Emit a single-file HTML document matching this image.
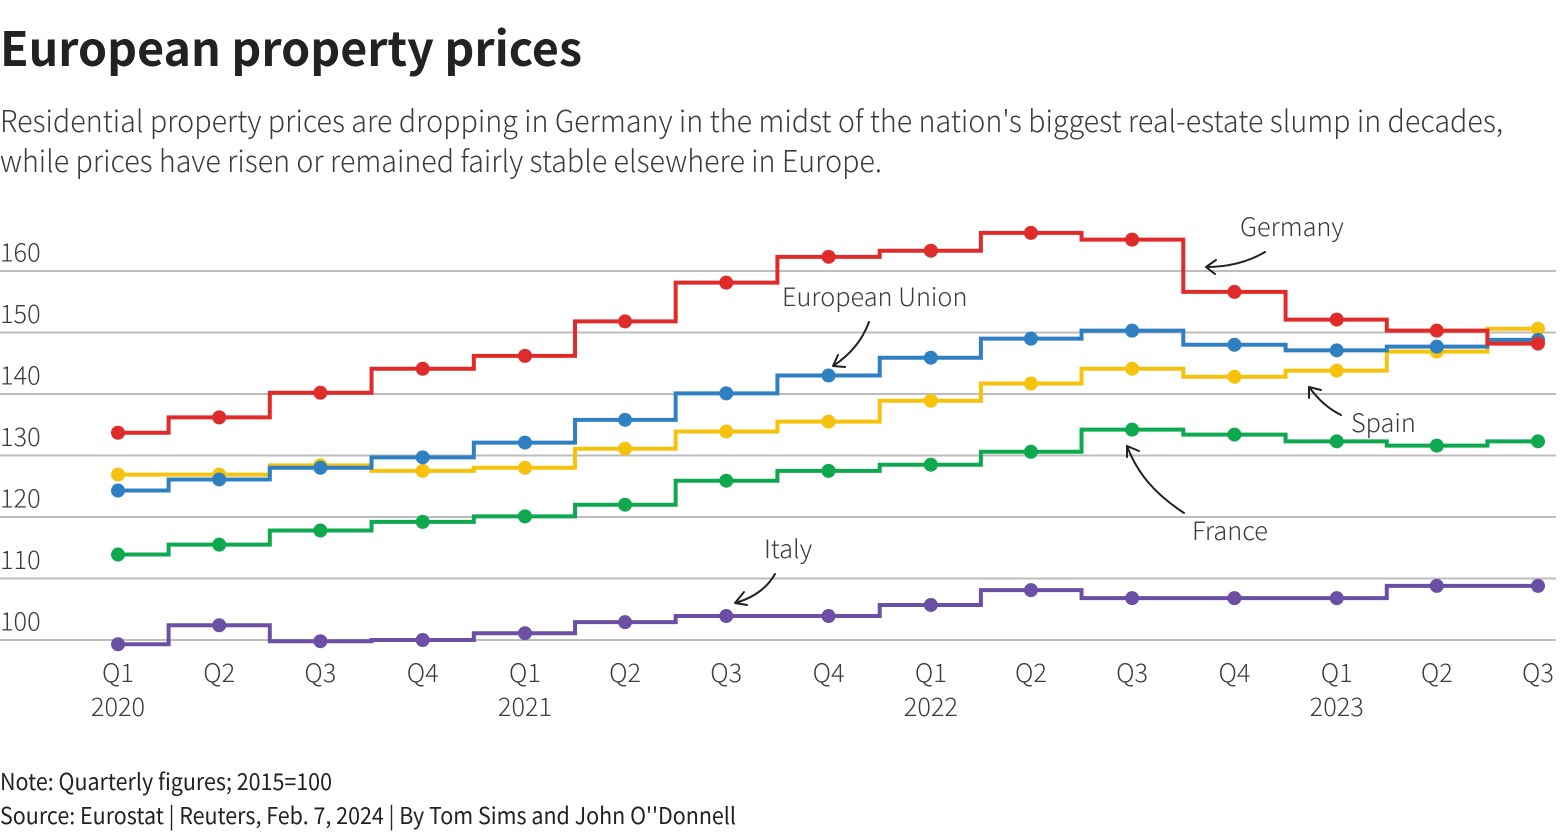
<!DOCTYPE html>
<html lang="en">
<head>
<meta charset="utf-8">
<title>European property prices</title>
<style>
html,body{margin:0;padding:0;background:#fff;width:1560px;height:836px;overflow:hidden}
svg{display:block}
text{font-family:"Noto Sans CJK SC","Liberation Sans",sans-serif;fill:#222}
.light{font-weight:300;fill:#3c3c3c}
</style>
</head>
<body>
<svg id="chart" width="1560" height="836" viewBox="0 0 1560 836">
  <text x="0" y="66" font-size="47" font-weight="700" textLength="582" lengthAdjust="spacingAndGlyphs">European property prices</text>
  <text class="light" x="0" y="132" font-size="30" textLength="1503" lengthAdjust="spacingAndGlyphs">Residential property prices are dropping in Germany in the midst of the nation's biggest real-estate slump in decades,</text>
  <text class="light" x="0" y="172" font-size="30" textLength="882" lengthAdjust="spacingAndGlyphs">while prices have risen or remained fairly stable elsewhere in Europe.</text>
  <g id="grid"></g>
  <g id="xaxis"></g>
  <g id="series"></g>
  <g fill="none" stroke="#222" stroke-width="2" stroke-linecap="round" stroke-linejoin="round">
    <path d="M1265 252 C1248 262 1228 267 1206 267 M1216 260 L1206 267 L1215 274"/>
    <path d="M869 322 C862 341 850 355 833 366 M838 355 L833 366 L845 367"/>
    <path d="M1341 415 C1327 408 1318 399 1309 387 M1309 398 L1309 387 L1321 390"/>
    <path d="M1184 513 C1155 494 1137 473 1127 446 M1127 457 L1127 446 L1139 451"/>
    <path d="M775 574 C767 588 753 598 735 603 M744 592 L735 603 L747 605"/>
  </g>
  <g font-size="25.3">
    <text class="light" x="1240" y="236">Germany</text>
    <text class="light" x="782" y="306">European Union</text>
    <text class="light" x="1351" y="432">Spain</text>
    <text class="light" x="1192" y="540">France</text>
    <text class="light" x="764" y="558">Italy</text>
  </g>
  <text x="0" y="790" font-size="23" textLength="332" lengthAdjust="spacingAndGlyphs">Note: Quarterly figures; 2015=100</text>
  <text x="0" y="824" font-size="23" textLength="736" lengthAdjust="spacingAndGlyphs">Source: Eurostat | Reuters, Feb. 7, 2024 | By Tom Sims and John O''Donnell</text>
</svg>
<script>
const dates = ["2020-01-01","2020-04-01","2020-07-01","2020-10-01","2021-01-01","2021-04-01","2021-07-01","2021-10-01","2022-01-01","2022-04-01","2022-07-01","2022-10-01","2023-01-01","2023-04-01","2023-07-01"];
const quarters = ["Q1","Q2","Q3","Q4","Q1","Q2","Q3","Q4","Q1","Q2","Q3","Q4","Q1","Q2","Q3"];
const years = ["2020",null,null,null,"2021",null,null,null,"2022",null,null,null,"2023",null,null];
const yTicks = [100,110,120,130,140,150,160];
const france = [113.9,115.5,117.8,119.2,120.1,122.0,125.9,127.5,128.5,130.6,134.2,133.4,132.3,131.6,132.3];
const italy = [99.3,102.4,99.8,100.0,101.1,102.9,103.9,103.9,105.7,108.1,106.8,106.8,106.8,108.8,108.8];
const spain = [126.9,126.9,128.4,127.5,128.0,131.1,133.9,135.5,138.9,141.7,144.1,142.8,143.8,146.9,150.6];
const europeanUnion = [124.3,126.1,128.0,129.7,132.1,135.8,140.1,143.0,145.9,149.0,150.3,148.0,147.1,147.7,148.8];
const germany = [133.7,136.2,140.2,144.1,146.2,151.8,158.1,162.3,163.3,166.2,165.1,156.6,152.1,150.3,148.2];

const NS = "http://www.w3.org/2000/svg";
function timeOf(i){ return Date.parse(dates[i] + "T00:00:00Z"); }
function xScale(i){ return 118 + (timeOf(i) - timeOf(0)) / (timeOf(dates.length - 1) - timeOf(0)) * (1538 - 118); }
function yScale(v){ return 640 - (v - 100) * (640 - 271) / 60; }
function make(tag, attrs, parent){
  const el = document.createElementNS(NS, tag);
  for (const k in attrs) el.setAttribute(k, attrs[k]);
  parent.appendChild(el);
  return el;
}

const grid = document.getElementById("grid");
yTicks.forEach(function(t){
  const y = yScale(t);
  const line = make("line", {x1:0, x2:1556, y1:y, y2:y, stroke:"#bdbdbd", "stroke-width":2}, grid);
  
  
  const label = make("text", {x:0, y:y - 9.5, "font-size":25.3, class:"light"}, grid);
  label.textContent = t;
  
  
});

const xaxis = document.getElementById("xaxis");
quarters.forEach(function(q, i){
  const label = make("text", {x:xScale(i), y:682, "font-size":25.3, "text-anchor":"middle", class:"light"}, xaxis);
  label.textContent = q;
  
  
  if (years[i]) {
    const yearLabel = make("text", {x:xScale(i), y:716, "font-size":25.3, "text-anchor":"middle", class:"light"}, xaxis);
    yearLabel.textContent = years[i];
    
    
  }
});

function drawSeries(values, color, seriesName){
  const root = document.getElementById("series");
  const g = make("g", {}, root);
  
  
  let d = "M" + xScale(0) + " " + yScale(values[0]);
  for (let i = 1; i < values.length; i++) {
    const mid = (xScale(i - 1) + xScale(i)) / 2;
    d += " H" + mid + " V" + yScale(values[i]) + " H" + xScale(i);
  }
  const path = make("path", {d:d, fill:"none", stroke:color, "stroke-width":4, "stroke-linejoin":"miter"}, g);
  
  
  values.forEach(function(v, i){
    const dot = make("circle", {cx:xScale(i), cy:yScale(v), r:7, fill:color}, g);
    
    
  });
}
drawSeries(france, "#0ea84f", "france");
drawSeries(italy, "#6b4fa5", "italy");
drawSeries(spain, "#f5c30e", "spain");
drawSeries(europeanUnion, "#2f80c2", "european-union");
drawSeries(germany, "#e02b2b", "germany");
</script>
</body>
</html>
